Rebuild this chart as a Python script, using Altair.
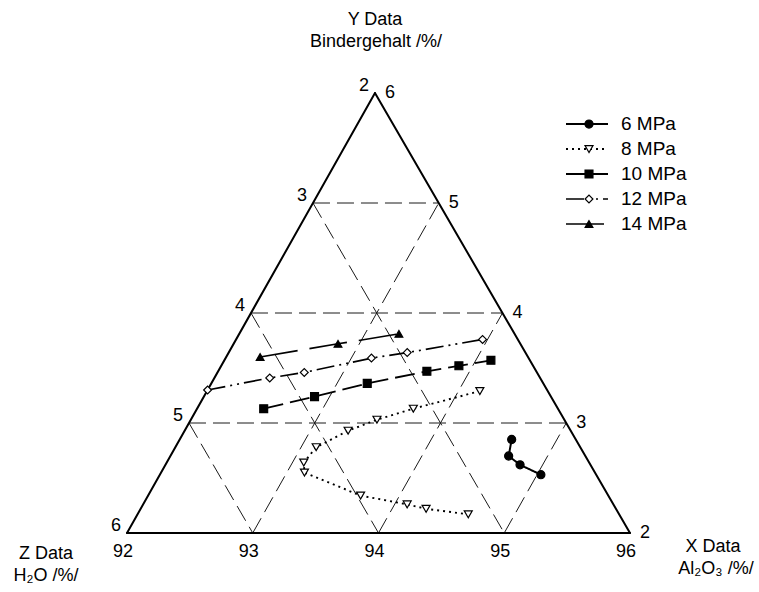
import altair as alt
import pandas as pd

# Compacting-pressure series: Al2O3 (X) and binder content (Y) in %,
# water (Z) is the balance so that X + Y + Z = 100 %.
SERIES = ["6 MPa", "8 MPa", "10 MPa", "12 MPa", "14 MPa"]

AL2O3_6 = [94.64, 94.69, 94.82, 95.03]
BINDER_6 = [2.85, 2.70, 2.62, 2.53]

AL2O3_8 = [94.17, 93.72, 93.48, 93.30, 93.12, 93.09, 93.14, 93.69, 94.10, 94.27, 94.63]
BINDER_8 = [3.29, 3.13, 3.03, 2.93, 2.78, 2.64, 2.55, 2.34, 2.26, 2.22, 2.17]

AL2O3_10 = [92.53, 92.88, 93.24, 93.66, 93.89, 94.12]
BINDER_10 = [3.13, 3.24, 3.36, 3.47, 3.52, 3.57]

AL2O3_12 = [92.00, 92.44, 92.69, 93.16, 93.42, 93.96]
BINDER_12 = [3.30, 3.41, 3.46, 3.59, 3.64, 3.76]

AL2O3_14 = [92.27, 92.83, 93.27]
BINDER_14 = [3.60, 3.72, 3.81]

AL2O3 = [AL2O3_6, AL2O3_8, AL2O3_10, AL2O3_12, AL2O3_14]
BINDER = [BINDER_6, BINDER_8, BINDER_10, BINDER_12, BINDER_14]

# Ternary frame: every component spans 4 %
X_LO, Y_LO, Z_LO, SPAN = 92, 2, 2, 4
TOTAL = 100
X_TICKS = [92, 93, 94, 95, 96]
Y_TICKS = [2, 3, 4, 5, 6]
Z_TICKS = [2, 3, 4, 5, 6]
INNER = [3, 4, 5]          # interior grid levels of Y and Z
INNER_X = [93, 94, 95]     # interior grid levels of X

APEX_U = 0.493             # apex position along the base (unit coordinates)
FONT = "Liberation Sans"
W, H = 759, 592


def uv(xf, yf):
    """Vega expressions turning (X, Y) fields into unit-triangle coordinates."""
    u = f"(datum.{xf} - {X_LO}) / {SPAN} + {APEX_U} * (datum.{yf} - {Y_LO}) / {SPAN}"
    v = f"(datum.{yf} - {Y_LO}) / {SPAN}"
    return u, v


XS = alt.Scale(domain=[-0.2525, 1.2565], nice=False, zero=False)
YS = alt.Scale(domain=[-0.1341, 1.2114], nice=False, zero=False)

# ---- data tables ---------------------------------------------------------
rows = []
for name, xs, ys in zip(SERIES, AL2O3, BINDER):
    for i, (x, y) in enumerate(zip(xs, ys)):
        rows.append({"series": name, "idx": i, "X": x, "Y": y})
points = pd.DataFrame(rows)

seg_rows = []
for k in INNER:  # constant binder (horizontal)
    seg_rows.append({"X1": X_LO, "Y1": k, "X2": TOTAL - Z_LO - k, "Y2": k})
for k in INNER_X:  # constant Al2O3 (parallel to left edge)
    seg_rows.append({"X1": k, "Y1": Y_LO, "X2": k, "Y2": TOTAL - Z_LO - k})
for k in INNER:  # constant water (parallel to right edge)
    seg_rows.append({"X1": X_LO, "Y1": TOTAL - X_LO - k, "X2": TOTAL - Y_LO - k, "Y2": Y_LO})
grid = pd.DataFrame(seg_rows)

X_HI = X_LO + SPAN
Y_HI = Y_LO + SPAN
outline = pd.DataFrame([
    {"X1": X_LO, "Y1": Y_LO, "X2": X_HI, "Y2": Y_LO},
    {"X1": X_HI, "Y1": Y_LO, "X2": X_LO, "Y2": Y_HI},
    {"X1": X_LO, "Y1": Y_HI, "X2": X_LO, "Y2": Y_LO},
])

u1, v1 = uv("X1", "Y1")
u2, v2 = uv("X2", "Y2")
u0, v0 = uv("X", "Y")

DASH = alt.Scale(domain=SERIES, range=[[1, 0], [2, 4], [20, 7], [18, 5, 2, 5, 2, 5], [38, 12]])
WIDTH = alt.Scale(domain=SERIES, range=[2, 1.6, 2.2, 1.8, 2.2])
SHAPE = alt.Scale(domain=SERIES, range=["circle", "triangle-down", "square", "diamond", "triangle-up"])
FILL = alt.Scale(domain=SERIES, range=["black", "white", "black", "white", "black"])
SIZE = alt.Scale(domain=SERIES, range=[65, 60, 55, 80, 55])

grid_layer = alt.Chart(grid).transform_calculate(u1=u1, v1=v1, u2=u2, v2=v2).mark_rule(
    color="#1a1a1a", strokeWidth=1, strokeDash=[17, 7]
).encode(
    x=alt.X("u1:Q", scale=XS, axis=None),
    y=alt.Y("v1:Q", scale=YS, axis=None),
    x2="u2:Q",
    y2="v2:Q",
)

outline_layer = alt.Chart(outline).transform_calculate(u1=u1, v1=v1, u2=u2, v2=v2).mark_rule(
    color="black", strokeWidth=2, strokeCap="round"
).encode(
    x=alt.X("u1:Q", scale=XS, axis=None),
    y=alt.Y("v1:Q", scale=YS, axis=None),
    x2="u2:Q",
    y2="v2:Q",
)

base = alt.Chart(points).transform_calculate(u=u0, v=v0)

line_layer = base.mark_line(color="black").encode(
    x=alt.X("u:Q", scale=XS, axis=None),
    y=alt.Y("v:Q", scale=YS, axis=None),
    strokeDash=alt.StrokeDash("series:N", scale=DASH, legend=None),
    strokeWidth=alt.StrokeWidth("series:N", scale=WIDTH, legend=None),
    order="idx:Q",
)

point_layer = base.mark_point(filled=True, stroke="black", strokeWidth=1.2, opacity=1).encode(
    x=alt.X("u:Q", scale=XS, axis=None),
    y=alt.Y("v:Q", scale=YS, axis=None),
    shape=alt.Shape("series:N", scale=SHAPE, legend=None),
    fill=alt.Fill("series:N", scale=FILL, legend=None),
    size=alt.Size("series:N", scale=SIZE, legend=None),
)

# ---- tick labels on the three edges -------------------------------------
tick_style = dict(font=FONT, fontSize=18, color="black", baseline="middle", align="center")

left_ticks = alt.Chart(pd.DataFrame({"Z": Z_TICKS})).transform_calculate(
    X=f"{X_LO}", Y=f"{TOTAL - X_LO} - datum.Z"
).transform_calculate(u=u0, v=v0).mark_text(dx=-11, dy=-7, **tick_style).encode(
    x=alt.X("u:Q", scale=XS, axis=None),
    y=alt.Y("v:Q", scale=YS, axis=None),
    text="Z:Q",
)

right_ticks = alt.Chart(pd.DataFrame({"Y": Y_TICKS})).transform_calculate(
    X=f"{TOTAL - Z_LO} - datum.Y"
).transform_calculate(u=u0, v=v0).mark_text(dx=15, dy=0, **tick_style).encode(
    x=alt.X("u:Q", scale=XS, axis=None),
    y=alt.Y("v:Q", scale=YS, axis=None),
    text="Y:Q",
)

bottom_ticks = alt.Chart(pd.DataFrame({"X": X_TICKS})).transform_calculate(
    Y=f"{Y_LO}"
).transform_calculate(u=u0, v=v0).mark_text(dx=-4, dy=19, **tick_style).encode(
    x=alt.X("u:Q", scale=XS, axis=None),
    y=alt.Y("v:Q", scale=YS, axis=None),
    text="X:Q",
)

# ---- axis titles ----------------------------------------------------------
one = pd.DataFrame({"k": [0]})


def label(text, x, y, align="center"):
    return alt.Chart(one).mark_text(
        font=FONT, fontSize=18, color="black", align=align, baseline="middle"
    ).encode(x=alt.value(x), y=alt.value(y), text=alt.value(text))


titles = [
    label("Y Data", 375, 20),
    label("Bindergehalt /%/", 376, 42),
    label("Z Data", 46, 554),
    label("H\u2082O /%/", 46, 576),
    label("X Data", 713, 547),
    label("Al\u2082O\u2083 /%/", 716, 569),
]

# ---- legend ---------------------------------------------------------------
LEG_V0 = (533 - 124) / 440
LEG_DV = 25 / 440
legend_df = pd.DataFrame({"series": SERIES, "row": list(range(len(SERIES)))})
leg = alt.Chart(legend_df).transform_calculate(lv=f"{LEG_V0} - datum.row * {LEG_DV}")

leg_lines = leg.mark_rule(color="black").encode(
    x=alt.value(566),
    x2=alt.value(608),
    y=alt.Y("lv:Q", scale=YS, axis=None),
    strokeDash=alt.StrokeDash("series:N", scale=DASH, legend=None),
    strokeWidth=alt.StrokeWidth("series:N", scale=WIDTH, legend=None),
)
leg_points = leg.mark_point(filled=True, stroke="black", strokeWidth=1.2, opacity=1).encode(
    x=alt.value(589),
    y=alt.Y("lv:Q", scale=YS, axis=None),
    shape=alt.Shape("series:N", scale=SHAPE, legend=None),
    fill=alt.Fill("series:N", scale=FILL, legend=None),
    size=alt.Size("series:N", scale=SIZE, legend=None),
)
leg_text = leg.mark_text(font=FONT, fontSize=19, color="black", align="left", baseline="middle").encode(
    x=alt.value(621),
    y=alt.Y("lv:Q", scale=YS, axis=None),
    text="series:N",
)

chart = alt.layer(
    grid_layer, outline_layer, line_layer, point_layer,
    left_ticks, right_ticks, bottom_ticks,
    *titles,
    leg_lines, leg_points, leg_text,
).properties(
    width=W, height=H,
    autosize=alt.AutoSizeParams(type="none"),
    padding=0,
    background="white",
).configure_view(stroke=None)

chart.save("out.html", embed_options={"renderer": "svg", "actions": False})
